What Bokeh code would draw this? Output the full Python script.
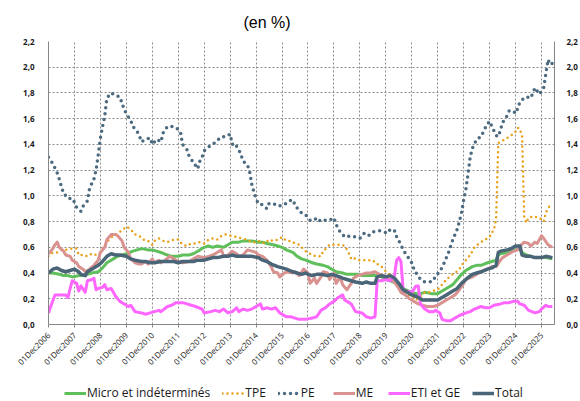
import math
from bokeh.plotting import figure
from bokeh.layouts import column
from bokeh.models import (Range1d, LinearAxis, FixedTicker, CustomJSTickFormatter,
                          Legend, LegendItem)
from bokeh.embed import file_html
from bokeh.resources import INLINE

# ---- data (month index from Dec 2006, value in %) ----
tick_months = [0, 12, 24, 36, 48, 60, 72, 84, 96, 108, 120, 132, 144, 156, 168, 180, 192, 204, 216, 228]
tick_labels = ["01Dec2006", "01Dec2007", "01Dec2008", "01Dec2009", "01Dec2010", "01Dec2011",
               "01Dec2012", "01Dec2013", "01Dec2014", "01Dec2015", "01Dec2016", "01Dec2017",
               "01Dec2018", "01Dec2019", "01Dec2020", "01Dec2021", "01Dec2022", "01Dec2023",
               "01Dec2024", "01Dec2025"]
y_ticks = [0.0, 0.2, 0.4, 0.6, 0.8, 1.0, 1.2, 1.4, 1.6, 1.8, 2.0, 2.2]
y_labels = ["0,0", "0,2", "0,4", "0,6", "0,8", "1,0", "1,2", "1,4", "1,6", "1,8", "2,0", "2,2"]

micro_m = [0, 2, 5, 7, 9, 11, 14, 16, 18, 20, 23, 25, 27, 30, 32, 34, 36, 39, 41, 43, 46, 48, 50, 52, 55, 57,
           60, 62, 65, 67, 69, 72, 74, 76, 78, 81, 83, 85, 88, 90, 92, 94, 97, 99, 101, 104, 106, 108, 110,
           113, 115, 117, 119, 122, 124, 127, 129, 131, 133, 136, 138, 140, 143, 145, 147, 149, 152, 154,
           156, 158, 161, 163, 165, 168, 170, 172, 174, 177, 180, 182, 184, 187, 189, 191, 193, 196, 198,
           200, 203, 205, 207, 208, 209, 212, 214, 216, 218, 219, 221, 223, 225, 228, 230, 233]
micro_v = [0.40, 0.40, 0.39, 0.38, 0.38, 0.37, 0.38, 0.38, 0.39, 0.40, 0.41, 0.44, 0.48, 0.51, 0.53, 0.54,
           0.55, 0.57, 0.58, 0.59, 0.58, 0.58, 0.57, 0.56, 0.54, 0.53, 0.53, 0.54, 0.54, 0.55, 0.57, 0.60,
           0.61, 0.60, 0.61, 0.60, 0.62, 0.64, 0.64, 0.65, 0.65, 0.65, 0.64, 0.64, 0.63, 0.62, 0.61, 0.60,
           0.58, 0.56, 0.53, 0.51, 0.50, 0.48, 0.47, 0.46, 0.45, 0.43, 0.41, 0.40, 0.39, 0.39, 0.39, 0.38,
           0.38, 0.38, 0.38, 0.37, 0.35, 0.34, 0.32, 0.29, 0.27, 0.25, 0.24, 0.24, 0.25, 0.24, 0.24, 0.26,
           0.28, 0.31, 0.35, 0.39, 0.42, 0.45, 0.46, 0.46, 0.48, 0.49, 0.50, 0.54, 0.55, 0.56, 0.57, 0.58,
           0.59, 0.56, 0.54, 0.53, 0.52, 0.52, 0.52, 0.51]

tpe_m = [0, 2, 4, 6, 8, 11, 13, 14, 16, 18, 20, 22, 24, 26, 28, 30, 32, 34, 36, 38, 40, 42, 44, 46, 48, 49,
         51, 53, 55, 58, 60, 62, 64, 66, 68, 70, 72, 74, 76, 78, 80, 82, 84, 87, 89, 92, 94, 96, 98, 100,
         102, 104, 106, 108, 110, 112, 114, 116, 117, 119, 122, 124, 126, 127, 129, 130, 133, 135, 137,
         139, 140, 141, 143, 146, 148, 150, 152, 154, 155, 157, 158, 160, 161, 163, 164, 166, 168, 170,
         172, 174, 176, 178, 180, 182, 184, 186, 188, 190, 191, 193, 195, 197, 199, 202, 204, 205, 206,
         207, 208, 209, 212, 214, 216, 217, 218, 219, 220, 221, 222, 224, 227, 229, 230, 232]
tpe_v = [0.53, 0.56, 0.56, 0.58, 0.58, 0.59, 0.59, 0.54, 0.54, 0.53, 0.55, 0.54, 0.56, 0.61, 0.66, 0.69,
         0.71, 0.73, 0.76, 0.74, 0.70, 0.69, 0.66, 0.65, 0.62, 0.65, 0.67, 0.65, 0.64, 0.66, 0.66, 0.62,
         0.61, 0.63, 0.63, 0.64, 0.63, 0.66, 0.67, 0.66, 0.69, 0.70, 0.69, 0.68, 0.67, 0.66, 0.64, 0.64,
         0.65, 0.63, 0.66, 0.65, 0.66, 0.68, 0.65, 0.65, 0.63, 0.62, 0.60, 0.57, 0.54, 0.53, 0.53, 0.57,
         0.60, 0.62, 0.62, 0.62, 0.61, 0.55, 0.51, 0.52, 0.50, 0.50, 0.50, 0.50, 0.47, 0.45, 0.43, 0.40,
         0.38, 0.35, 0.32, 0.29, 0.25, 0.23, 0.22, 0.19, 0.22, 0.25, 0.25, 0.26, 0.27, 0.31, 0.35, 0.38,
         0.40, 0.43, 0.46, 0.50, 0.54, 0.60, 0.63, 0.66, 0.68, 0.71, 0.74, 0.82, 1.41, 1.42, 1.45, 1.47,
         1.50, 1.53, 1.52, 1.46, 0.84, 0.79, 0.83, 0.84, 0.83, 0.80, 0.87, 0.93]

pe_m = [0, 2, 4, 5, 6, 7, 9, 11, 12, 13, 15, 16, 18, 19, 21, 22, 23, 24, 25, 26, 27, 29, 31, 33, 34, 35, 37,
        38, 39, 41, 42, 43, 45, 47, 48, 50, 52, 53, 55, 57, 59, 61, 62, 64, 65, 67, 69, 70, 71, 72, 74, 76,
        78, 80, 82, 84, 85, 86, 88, 89, 90, 92, 93, 94, 95, 96, 97, 99, 101, 102, 104, 106, 109, 111, 113,
        114, 116, 119, 121, 123, 124, 126, 128, 130, 132, 133, 134, 136, 137, 140, 142, 144, 146, 148, 150,
        153, 155, 157, 158, 160, 161, 163, 164, 166, 168, 169, 170, 172, 174, 176, 178, 179, 181, 183, 185,
        186, 187, 189, 190, 191, 192, 193, 194, 195, 196, 198, 200, 202, 203, 204, 205, 207, 208, 209, 210,
        212, 213, 215, 216, 217, 218, 220, 221, 223, 224, 225, 227, 229, 230, 231, 232, 233]
pe_v = [1.30, 1.25, 1.18, 1.13, 1.07, 1.02, 0.98, 0.98, 0.95, 0.91, 0.88, 0.92, 0.96, 1.06, 1.13, 1.20, 1.32,
        1.45, 1.54, 1.62, 1.76, 1.80, 1.78, 1.77, 1.72, 1.67, 1.61, 1.59, 1.54, 1.50, 1.47, 1.42, 1.44, 1.45,
        1.40, 1.44, 1.42, 1.49, 1.54, 1.54, 1.53, 1.50, 1.40, 1.36, 1.31, 1.26, 1.21, 1.27, 1.30, 1.35, 1.38,
        1.40, 1.43, 1.46, 1.46, 1.48, 1.40, 1.41, 1.36, 1.32, 1.27, 1.24, 1.19, 1.09, 1.03, 0.98, 0.94, 0.93,
        0.90, 0.94, 0.94, 0.92, 0.93, 0.96, 0.97, 0.93, 0.88, 0.85, 0.81, 0.81, 0.83, 0.80, 0.81, 0.81, 0.83,
        0.78, 0.74, 0.70, 0.68, 0.69, 0.68, 0.67, 0.71, 0.69, 0.72, 0.73, 0.72, 0.71, 0.74, 0.73, 0.68, 0.62,
        0.58, 0.53, 0.48, 0.43, 0.40, 0.35, 0.33, 0.33, 0.34, 0.38, 0.41, 0.48, 0.56, 0.61, 0.66, 0.74, 0.80,
        0.87, 0.97, 1.05, 1.17, 1.30, 1.37, 1.44, 1.46, 1.53, 1.56, 1.58, 1.54, 1.47, 1.46, 1.51, 1.57, 1.62,
        1.66, 1.66, 1.64, 1.68, 1.73, 1.76, 1.77, 1.76, 1.80, 1.84, 1.79, 1.84, 1.95, 2.06, 2.02, 2.03]

me_m = [0, 2, 3, 4, 5, 7, 8, 10, 11, 13, 14, 16, 17, 19, 21, 23, 24, 26, 27, 29, 31, 32, 34, 35, 37, 38, 40,
        42, 43, 45, 46, 48, 49, 51, 52, 54, 56, 58, 60, 62, 65, 67, 69, 72, 74, 76, 78, 80, 81, 83, 85, 87,
        88, 90, 92, 94, 96, 97, 99, 101, 103, 104, 106, 107, 109, 111, 113, 114, 116, 118, 120, 121, 123,
        124, 126, 127, 129, 130, 132, 133, 135, 136, 138, 140, 141, 143, 145, 147, 149, 151, 153, 155, 157,
        158, 160, 162, 163, 165, 167, 169, 171, 173, 175, 178, 180, 182, 184, 186, 188, 190, 192, 193, 196,
        198, 200, 203, 205, 207, 209, 210, 212, 215, 217, 218, 220, 222, 223, 225, 226, 228, 229, 231, 233]
me_v = [0.55, 0.59, 0.62, 0.64, 0.60, 0.57, 0.54, 0.53, 0.50, 0.48, 0.45, 0.43, 0.41, 0.43, 0.46, 0.50, 0.56,
        0.60, 0.66, 0.70, 0.70, 0.69, 0.65, 0.60, 0.56, 0.51, 0.48, 0.47, 0.47, 0.49, 0.47, 0.51, 0.48, 0.50,
        0.48, 0.50, 0.53, 0.51, 0.49, 0.48, 0.49, 0.51, 0.53, 0.52, 0.53, 0.54, 0.56, 0.58, 0.53, 0.54, 0.57,
        0.55, 0.53, 0.54, 0.58, 0.57, 0.56, 0.54, 0.53, 0.50, 0.45, 0.41, 0.40, 0.37, 0.40, 0.41, 0.40, 0.41,
        0.38, 0.43, 0.40, 0.32, 0.36, 0.32, 0.37, 0.41, 0.40, 0.35, 0.40, 0.32, 0.37, 0.31, 0.27, 0.32, 0.36,
        0.38, 0.39, 0.40, 0.40, 0.41, 0.39, 0.38, 0.36, 0.35, 0.33, 0.28, 0.25, 0.23, 0.20, 0.18, 0.16, 0.15,
        0.14, 0.14, 0.15, 0.17, 0.19, 0.21, 0.23, 0.27, 0.32, 0.35, 0.37, 0.39, 0.41, 0.43, 0.45, 0.45, 0.50,
        0.52, 0.54, 0.57, 0.58, 0.61, 0.64, 0.63, 0.61, 0.64, 0.63, 0.69, 0.67, 0.62, 0.60]

eti_m = [0, 1, 3, 5, 8, 9, 10, 11, 13, 14, 15, 17, 18, 20, 21, 22, 23, 25, 26, 27, 29, 30, 31, 33, 35, 37, 38,
         40, 43, 45, 47, 49, 51, 52, 55, 57, 59, 62, 64, 66, 68, 71, 72, 75, 77, 79, 81, 83, 85, 87, 88, 90,
         92, 94, 96, 98, 99, 101, 103, 105, 107, 110, 112, 114, 116, 119, 122, 124, 126, 128, 130, 132, 134,
         136, 137, 139, 140, 142, 145, 147, 149, 151, 152, 154, 156, 158, 160, 161, 162, 163, 164, 165, 168,
         170, 171, 172, 174, 176, 178, 179, 181, 182, 184, 186, 188, 190, 193, 195, 197, 200, 202, 204, 206,
         209, 211, 213, 215, 217, 218, 220, 222, 225, 227, 228, 230, 231, 233]
eti_v = [0.09, 0.14, 0.23, 0.23, 0.23, 0.21, 0.28, 0.34, 0.32, 0.26, 0.30, 0.25, 0.34, 0.35, 0.36, 0.27, 0.28,
         0.29, 0.31, 0.27, 0.28, 0.25, 0.22, 0.18, 0.16, 0.14, 0.15, 0.10, 0.09, 0.08, 0.09, 0.10, 0.11, 0.10,
         0.14, 0.15, 0.17, 0.17, 0.16, 0.15, 0.14, 0.12, 0.09, 0.10, 0.11, 0.10, 0.12, 0.09, 0.10, 0.13, 0.10,
         0.12, 0.11, 0.12, 0.14, 0.16, 0.12, 0.13, 0.12, 0.13, 0.09, 0.06, 0.06, 0.05, 0.04, 0.04, 0.05, 0.06,
         0.11, 0.13, 0.16, 0.18, 0.21, 0.23, 0.19, 0.17, 0.16, 0.10, 0.09, 0.06, 0.05, 0.06, 0.34, 0.34, 0.35,
         0.34, 0.38, 0.50, 0.52, 0.49, 0.27, 0.26, 0.25, 0.30, 0.30, 0.16, 0.12, 0.10, 0.10, 0.11, 0.09, 0.04,
         0.03, 0.03, 0.05, 0.07, 0.09, 0.10, 0.12, 0.14, 0.13, 0.13, 0.15, 0.16, 0.17, 0.17, 0.18, 0.18, 0.16,
         0.15, 0.11, 0.09, 0.10, 0.12, 0.15, 0.14, 0.14]

total_m = [0, 2, 4, 6, 8, 10, 12, 14, 15, 17, 18, 20, 23, 25, 27, 29, 31, 33, 36, 38, 40, 43, 45, 47, 49, 52,
           54, 56, 58, 60, 62, 65, 67, 69, 72, 74, 76, 78, 81, 83, 85, 87, 90, 92, 94, 97, 99, 101, 103, 106,
           108, 110, 113, 115, 117, 119, 120, 122, 124, 126, 129, 131, 133, 136, 138, 140, 142, 145, 147, 149,
           151, 152, 154, 156, 158, 160, 162, 164, 166, 168, 171, 173, 175, 177, 180, 182, 184, 186, 189, 191,
           193, 196, 198, 200, 203, 205, 207, 208, 209, 212, 214, 216, 218, 219, 221, 223, 225, 228, 230, 233]
total_v = [0.40, 0.43, 0.44, 0.42, 0.41, 0.42, 0.43, 0.41, 0.39, 0.38, 0.41, 0.43, 0.46, 0.49, 0.53, 0.55,
           0.54, 0.54, 0.53, 0.51, 0.50, 0.49, 0.49, 0.48, 0.48, 0.49, 0.49, 0.49, 0.49, 0.48, 0.49, 0.49, 0.49,
           0.50, 0.50, 0.51, 0.52, 0.52, 0.53, 0.53, 0.54, 0.53, 0.53, 0.53, 0.53, 0.52, 0.50, 0.49, 0.47, 0.45,
           0.44, 0.43, 0.41, 0.40, 0.39, 0.40, 0.39, 0.38, 0.39, 0.39, 0.38, 0.39, 0.38, 0.36, 0.35, 0.34, 0.33,
           0.32, 0.33, 0.32, 0.32, 0.37, 0.38, 0.37, 0.38, 0.36, 0.32, 0.27, 0.25, 0.23, 0.21, 0.19, 0.19, 0.19,
           0.19, 0.21, 0.23, 0.25, 0.28, 0.32, 0.35, 0.39, 0.40, 0.41, 0.43, 0.44, 0.46, 0.56, 0.57, 0.58, 0.59,
           0.61, 0.61, 0.54, 0.53, 0.53, 0.52, 0.52, 0.53, 0.52]

series_names = ["Micro et indéterminés", "TPE", "PE", "ME", "ETI et GE", "Total"]
series_colors = ["#5fbf5a", "#e8a11a", "#4d6b80", "#d9928f", "#ff66ff", "#4a6578"]
series_widths = [3, 2.5, 3.5, 3, 3, 3.5]
series_dashes = ["solid", "0 5", "0 6", "solid", "solid", "solid"]
series_data = [(micro_m, micro_v), (tpe_m, tpe_v), (pe_m, pe_v), (me_m, me_v), (eti_m, eti_v),
               (total_m, total_v)]

# ---- main figure ----
FONT = "Open Sans"
GRID = "#8c8c8c"
AXIS = "#868686"


def add_series(fig, mx, vy, c, w, d):
    if d == "solid":
        return fig.line(mx, vy, line_color=c, line_width=w, line_join="round")
    return fig.line(mx, vy, line_color=c, line_width=w, line_dash=d, line_cap="round")


p = figure(width=580, height=380, output_backend="svg", toolbar_location=None,
           x_range=Range1d(0, 234), y_range=Range1d(0, 2.2),
           min_border_left=48, min_border_right=0, min_border_top=40, min_border_bottom=56)
p.outline_line_color = None
p.background_fill_color = "white"
p.border_fill_color = "white"

p.title.text = "(en %)"
p.title.text_font = "Liberation Sans"
p.title.text_font_size = "16px"
p.title.text_font_style = "normal"
p.title.text_color = "#000000"
p.title.align = "left"
p.title.offset = 195
p.title.standoff = 22

xfmt = CustomJSTickFormatter(args=dict(tvals=tick_months, tlabs=tick_labels),
                             code="const i = tvals.indexOf(tick); return i >= 0 ? tlabs[i] : '';")
yfmt = CustomJSTickFormatter(args=dict(yvals=y_ticks, ylabs=y_labels),
                             code="let b = 0; for (let i = 0; i < yvals.length; i++) { if (Math.abs(yvals[i] - tick) < Math.abs(yvals[b] - tick)) b = i; } return ylabs[b];")

xa = p.xaxis[0]
xa.ticker = FixedTicker(ticks=tick_months)
xa.formatter = xfmt
xa.major_label_orientation = math.pi / 4
xa.major_label_text_font = FONT
xa.major_label_text_font_size = "8px"
xa.major_label_text_color = "#1a1a1a"
xa.major_label_standoff = 6
xa.axis_line_color = AXIS
xa.major_tick_line_color = AXIS
xa.major_tick_out = 3
xa.major_tick_in = 0
xa.minor_tick_line_color = None

ya = p.yaxis[0]
ya.ticker = FixedTicker(ticks=y_ticks)
ya.formatter = yfmt
ya.major_label_text_font = FONT
ya.major_label_text_font_size = "8px"
ya.major_label_text_font_style = "bold"
ya.major_label_text_color = "#1a1a1a"
ya.major_label_standoff = 8
ya.axis_line_color = AXIS
ya.major_tick_line_color = None
ya.minor_tick_line_color = None

ra = LinearAxis(ticker=FixedTicker(ticks=y_ticks), formatter=yfmt)
ra.major_label_text_font = FONT
ra.major_label_text_font_size = "8px"
ra.major_label_text_font_style = "bold"
ra.major_label_text_color = "#1a1a1a"
ra.major_label_standoff = 6
ra.axis_line_color = AXIS
ra.major_tick_line_color = None
ra.minor_tick_line_color = None
p.add_layout(ra, "right")

p.xgrid.ticker = FixedTicker(ticks=tick_months)
p.ygrid.ticker = FixedTicker(ticks=y_ticks)
for g in (p.xgrid[0], p.ygrid[0]):
    g.grid_line_color = GRID
    g.grid_line_dash = "2 2"
    g.grid_line_width = 1

for (mx, vy), c, w, d in zip(series_data, series_colors, series_widths, series_dashes):
    add_series(p, mx, vy, c, w, d)

# ---- legend strip (separate small figure; its ranges keep the series out of view) ----
pl = figure(width=580, height=21, output_backend="svg", toolbar_location=None,
            x_axis_location=None, y_axis_location=None,
            x_range=Range1d(0, 234), y_range=Range1d(10, 11),
            min_border_left=0, min_border_right=0, min_border_top=0, min_border_bottom=0)
pl.grid.visible = False
pl.outline_line_color = None
pl.background_fill_color = "white"
pl.border_fill_color = "white"
items = []
for name, (mx, vy), c, w, d in zip(series_names, series_data, series_colors, series_widths, series_dashes):
    r = add_series(pl, mx, vy, c, w, d)
    items.append(LegendItem(label=name, renderers=[r]))
legend = Legend(items=items, orientation="horizontal", location=(16, 0),
                label_text_font=FONT, label_text_font_size="12px", label_text_color="#1a1a1a",
                glyph_width=22, glyph_height=12, label_standoff=1, spacing=12,
                padding=0, margin=0, border_line_color=None, background_fill_alpha=0)
pl.add_layout(legend, "center")

open("out.html", "w").write(file_html(column(p, pl, spacing=0), INLINE))
